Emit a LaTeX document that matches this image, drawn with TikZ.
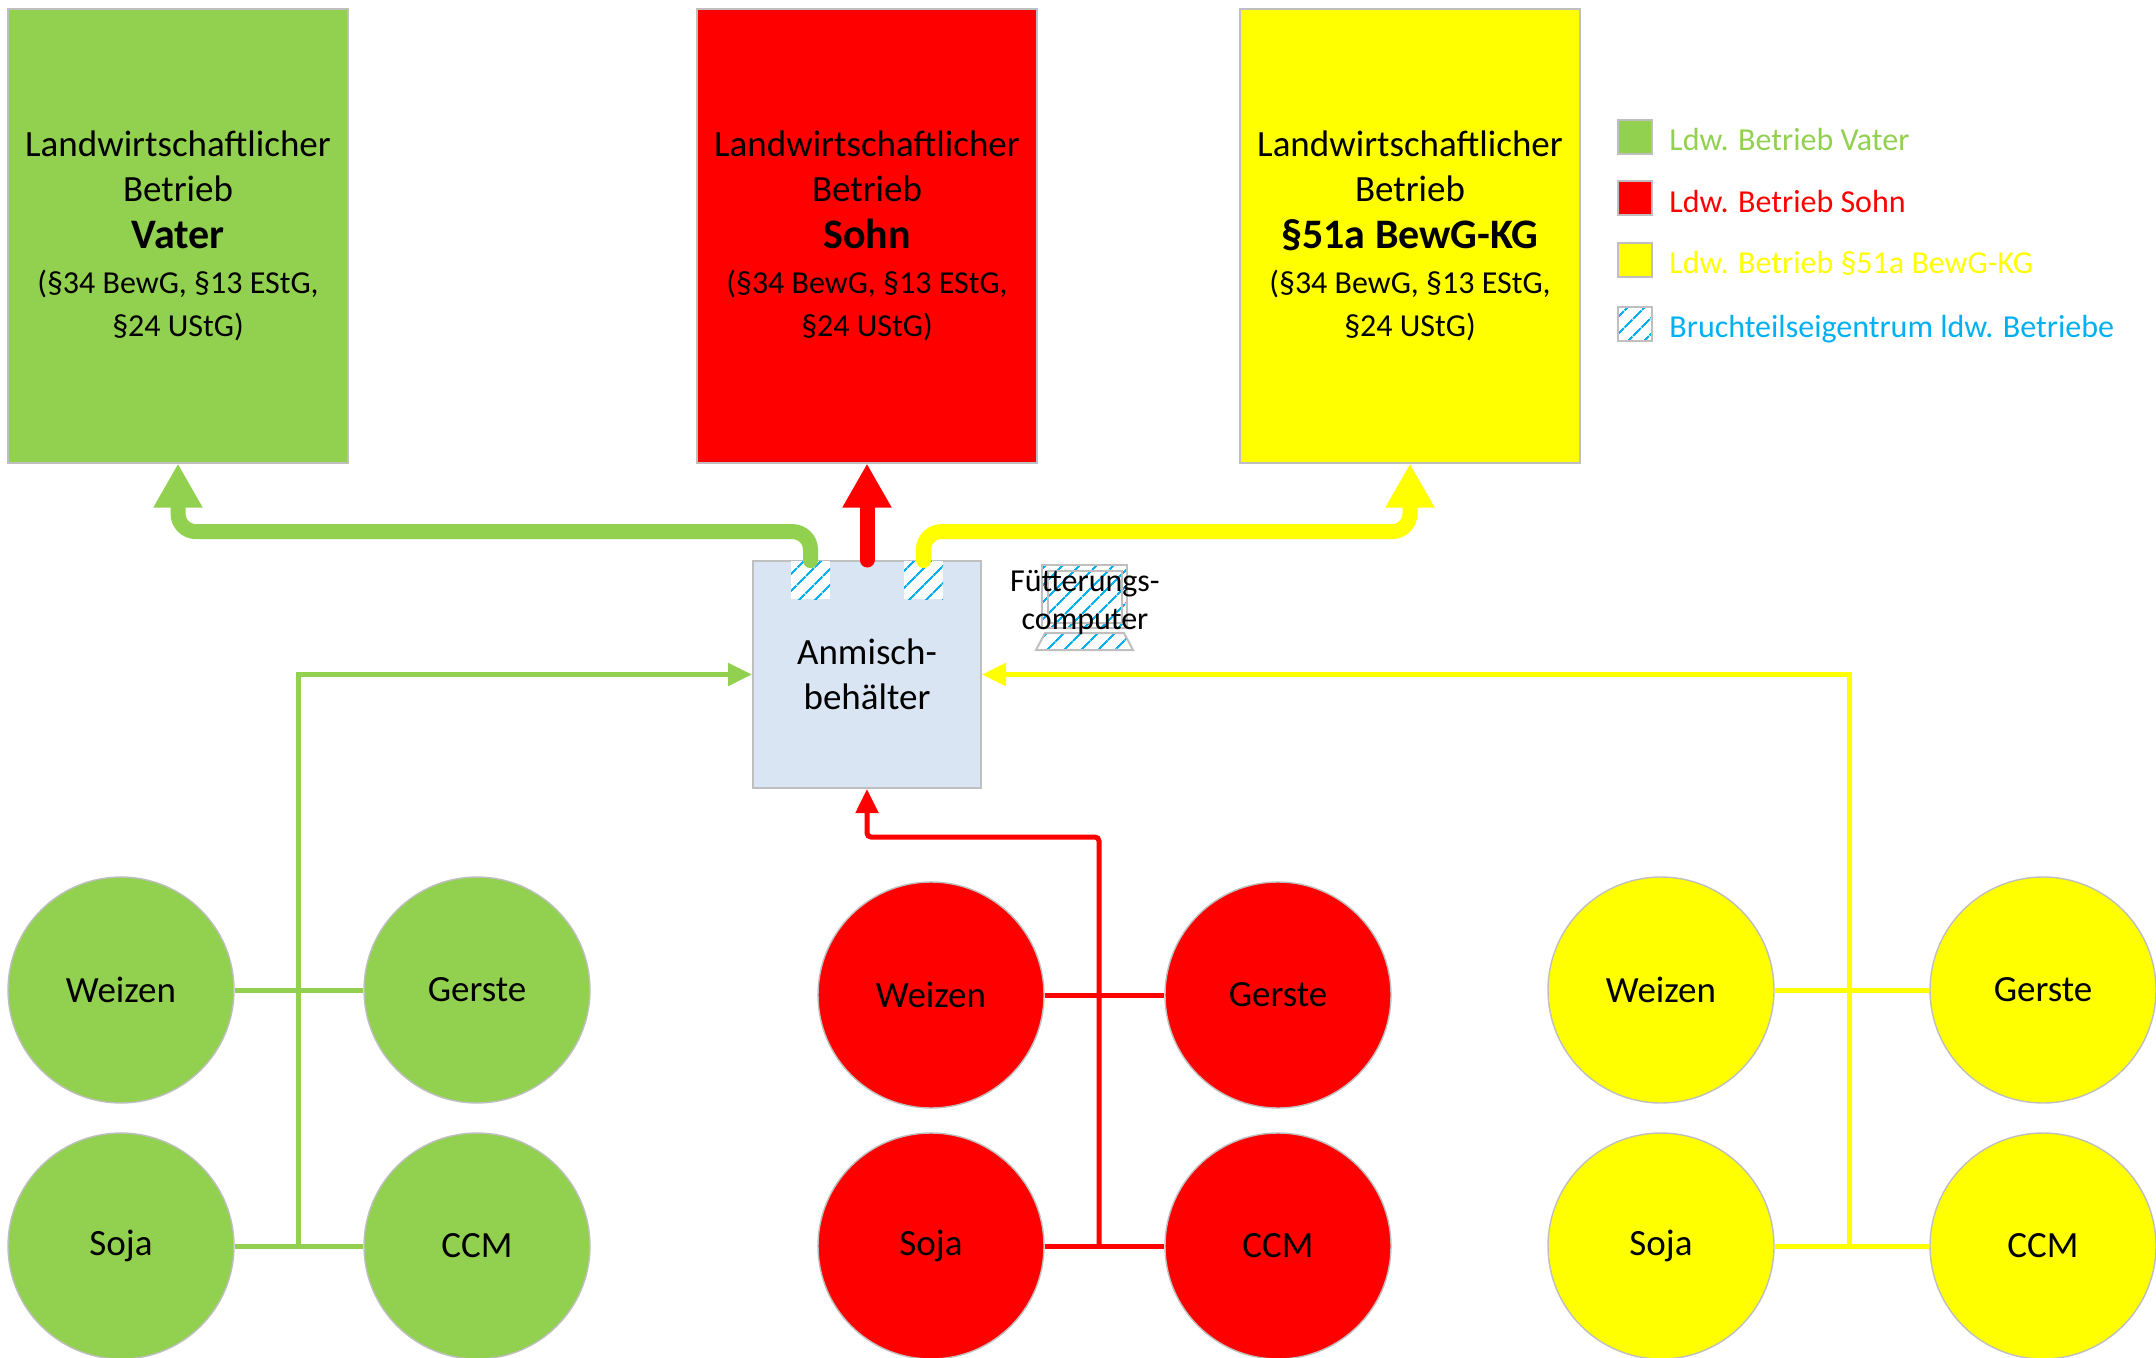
\documentclass[tikz,border=0pt]{standalone}
\usepackage{fontspec}
\setmainfont{Carlito}
\usetikzlibrary{arrows.meta,patterns.meta}

\definecolor{vgreen}{HTML}{92D050}
\definecolor{sred}{HTML}{FF0000}
\definecolor{kyellow}{HTML}{FFFF00}
\definecolor{hatchblue}{HTML}{00B0F0}
\definecolor{edgegray}{HTML}{BFBFBF}
\definecolor{tankblue}{HTML}{DAE5F3}

\tikzset{
  farm/.style={draw=edgegray, line width=1pt, minimum width=170pt, minimum height=226.5pt,
    text width=165pt, inner sep=0pt, align=flush center, font=\fontsize{18.5}{22.5}\selectfont},
  crop/.style={circle, draw=edgegray, line width=0.7pt, minimum size=113pt, inner sep=0pt,
    font=\fontsize{18.5}{22}\selectfont},
  share/.style={preaction={fill=white}, pattern={Lines[angle=45,distance=6.5pt,line width=1pt]},
    pattern color=hatchblue},
  legbox/.style={draw=edgegray, line width=1.2pt, minimum size=17pt, inner sep=0pt},
  legtext/.style={anchor=west, inner sep=0pt, font=\fontsize{16}{19}\selectfont},
  bigflow/.style={line width=7.5pt, rounded corners=9pt, line cap=round,
    -{Triangle[length=22pt,width=23pt]}},
  flow/.style={line width=2.5pt, -{Triangle[length=12pt,width=11pt]}},
  link/.style={line width=2.5pt}
}

\begin{document}
\begin{tikzpicture}[x=0.5pt,y=-0.5pt]
  \useasboundingbox (0,0) rectangle (2156,1358);

  % Betriebe oben
  \node[farm, fill=vgreen] (vater) at (178,236) {Landwirtschaftlicher\\Betrieb\\[1pt]
    {\fontsize{21}{25}\selectfont\bfseries Vater}\\
    {\fontsize{16}{20}\selectfont (§34 BewG, §13 EStG,}\\[-1pt]
    {\fontsize{16}{20}\selectfont §24 UStG)}};
  \node[farm, fill=sred] (sohn) at (867,236) {Landwirtschaftlicher\\Betrieb\\[1pt]
    {\fontsize{21}{25}\selectfont\bfseries Sohn}\\
    {\fontsize{16}{20}\selectfont (§34 BewG, §13 EStG,}\\[-1pt]
    {\fontsize{16}{20}\selectfont §24 UStG)}};
  \node[farm, fill=kyellow] (kg) at (1410,236) {Landwirtschaftlicher\\Betrieb\\[1pt]
    {\fontsize{21}{25}\selectfont\bfseries §51a BewG-KG}\\
    {\fontsize{16}{20}\selectfont (§34 BewG, §13 EStG,}\\[-1pt]
    {\fontsize{16}{20}\selectfont §24 UStG)}};

  % Legende
  \node[legbox, fill=vgreen] (lv) at (1635,137) {};
  \node[legbox, fill=sred] (ls) at (1635,198) {};
  \node[legbox, fill=kyellow] (lk) at (1635,260) {};
  \node[legbox, share] (lb) at (1635,324) {};
  \node[legtext, text=vgreen] (lvt) at (1669,140) {Ldw. Betrieb Vater};
  \node[legtext, text=sred] (lst) at (1669,202) {Ldw. Betrieb Sohn};
  \node[legtext, text=kyellow] (lkt) at (1669,263) {Ldw. Betrieb §51a BewG-KG};
  \node[legtext, text=hatchblue] (lbt) at (1669,329) {Bruchteilseigentrum ldw. Betriebe};

  % Anmischbehaelter
  \node[draw=edgegray, line width=1pt, fill=tankblue, minimum width=114pt, minimum height=113.5pt,
    align=flush center, font=\fontsize{18.5}{22.5}\selectfont] (anm) at (867,674.5) {Anmisch-\\behälter};
  \node[share, minimum width=19.5pt, minimum height=19pt, inner sep=0pt] (anteilV) at (810.5,580) {};
  \node[share, minimum width=19.5pt, minimum height=19pt, inner sep=0pt] (anteilK) at (923.5,580) {};

  % Fuetterungscomputer
  \filldraw[draw=edgegray, line width=1pt, share] (1042,565) rectangle (1127,628);
  \draw[edgegray, line width=0.8pt] (1048,571) rectangle (1122,623);
  \filldraw[draw=edgegray, line width=1pt, share] (1045,633) -- (1124,633) -- (1133,650) -- (1036,650) -- cycle;
  \node[align=flush center, inner sep=0pt, font=\fontsize{16}{19}\selectfont] (fc) at (1085,602) {Fütterungs-\\computer};

  % Bruchteile zu den Betrieben
  \draw[bigflow, vgreen] (anteilV.north) -- ++(0,-29) -| (vater.south);
  \draw[bigflow, sred] (anm.north) -- (sohn.south);
  \draw[bigflow, kyellow] (anteilK.north) -- ++(0,-29) -| (kg.south);

  % Futtermittel Vater
  \node[crop, fill=vgreen] (gW) at (121,990) {Weizen};
  \node[crop, fill=vgreen] (gG) at (477,990) {Gerste};
  \node[crop, fill=vgreen] (gS) at (121,1246) {Soja};
  \node[crop, fill=vgreen] (gC) at (477,1246) {CCM};
  \coordinate (jG) at (298,1246);
  \draw[link, vgreen] (gW.east) -- (gG.west);
  \draw[link, vgreen] (gS.east) -- (gC.west);
  \draw[flow, vgreen] (jG) |- (anm.west);

  % Futtermittel Sohn
  \node[crop, fill=sred] (rW) at (931,995) {Weizen};
  \node[crop, fill=sred] (rG) at (1278,995) {Gerste};
  \node[crop, fill=sred] (rS) at (931,1246) {Soja};
  \node[crop, fill=sred] (rC) at (1278,1246) {CCM};
  \coordinate (jR) at (1099,1246);
  \draw[link, sred] (rW.east) -- (rG.west);
  \draw[link, sred] (rS.east) -- (rC.west);
  \draw[flow, sred, rounded corners=2pt] (jR) -- ++(0,-409) -| (anm.south);

  % Futtermittel KG
  \node[crop, fill=kyellow] (yW) at (1661,990) {Weizen};
  \node[crop, fill=kyellow] (yG) at (2043,990) {Gerste};
  \node[crop, fill=kyellow] (yS) at (1661,1246) {Soja};
  \node[crop, fill=kyellow] (yC) at (2043,1246) {CCM};
  \coordinate (jK) at (1849,1246);
  \draw[link, kyellow] (yW.east) -- (yG.west);
  \draw[link, kyellow] (yS.east) -- (yC.west);
  \draw[flow, kyellow] (jK) |- (anm.east);
\end{tikzpicture}
\end{document}
